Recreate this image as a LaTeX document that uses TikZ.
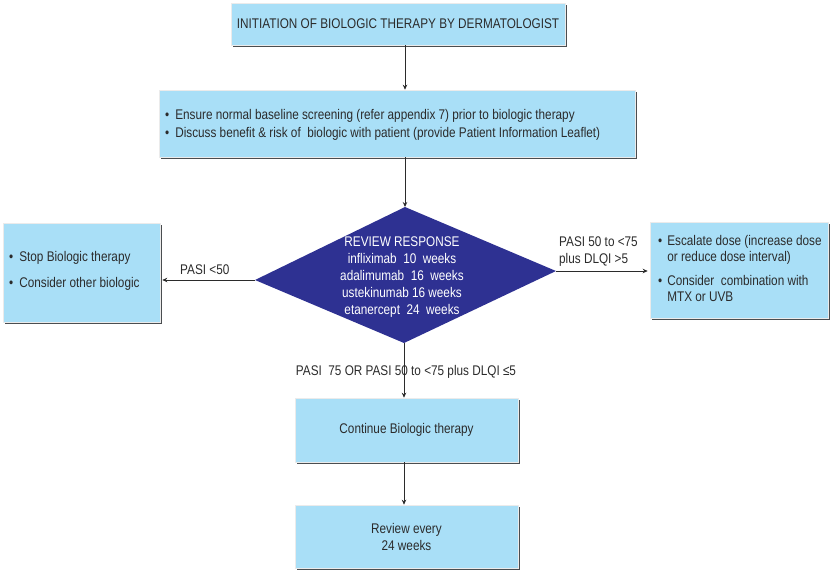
\documentclass[tikz,border=0pt]{standalone}
\usepackage{fontspec}
\setmainfont{Liberation Sans}[FakeStretch=0.84]
\usetikzlibrary{arrows.meta,shadows,calc}
\definecolor{boxfill}{HTML}{A9DFF7}
\definecolor{boxshade}{HTML}{4A4D50}
\definecolor{deepblue}{HTML}{2E3192}
\definecolor{inkgray}{HTML}{2B2B2B}
\newcommand{\bul}{\textbullet}
\begin{document}
\begin{tikzpicture}[x=1pt,y=-1pt,
  every node/.style={text=inkgray,font=\fontsize{14}{17}\selectfont,inner sep=0pt},
  cbox/.style={rectangle,fill=boxfill,draw=black!8,line width=0.6pt,
    drop shadow={shadow xshift=2pt,shadow yshift=-2pt,fill=boxshade,opacity=1}},
  link/.style={draw=inkgray,line width=0.9pt,-{Stealth[length=5pt,width=4.5pt]}},
  lbl/.style={font=\fontsize{14}{17}\selectfont}]
\useasboundingbox (0,0) rectangle (831,570);

% boxes
\node[cbox,minimum width=334pt,minimum height=42pt] (start) at (398,24)
  {INITIATION OF BIOLOGIC THERAPY BY DERMATOLOGIST};
\node[cbox,minimum width=476pt,minimum height=67pt] (screen) at (397,123.5) {};
\node[anchor=west,align=left,font=\fontsize{14}{18}\selectfont] (screentext) at (165,125)
  {\bul\hspace{6pt}Ensure normal baseline screening (refer appendix 7) prior to biologic therapy\\
   \bul\hspace{6pt}Discuss benefit \& risk of\ \ biologic with patient (provide Patient Information Leaflet)};

\node[cbox,minimum width=157pt,minimum height=99pt] (stop) at (81.5,272.5) {};
\node[anchor=west,align=left,font=\fontsize{14}{26}\selectfont] (stoptext) at (9,271)
  {\bul\hspace{6pt}Stop Biologic therapy\\ \bul\hspace{6pt}Consider other biologic};

\node[cbox,minimum width=178pt,minimum height=96pt] (escalate) at (739,270) {};
\node[anchor=west,font=\fontsize{14}{16}\selectfont] (esctext) at (658,270)
  {\begin{tabular}{@{}l@{\hspace{5pt}}l@{}}
   \bul & Escalate dose (increase dose\\
        & or reduce dose interval)\\[8pt]
   \bul & Consider\ \ combination with\\
        & MTX or UVB
   \end{tabular}};

\node[cbox,minimum width=223pt,minimum height=64pt] (cont) at (406.5,430)
  {Continue Biologic therapy};
\node[cbox,minimum width=223pt,minimum height=63pt,align=center] (revbox) at (406.5,536.5)
  {Review every\\24 weeks};

% decision diamond
\coordinate (dtop) at (405,207);
\coordinate (dright) at (556,271);
\coordinate (dbottom) at (404,343);
\coordinate (dleft) at (255,280);
\fill[deepblue] (dtop) -- (dright) -- (dbottom) -- (dleft) -- cycle;
\node[text=white,align=center,font=\fontsize{14}{17}\selectfont] (review) at (402,277)
  {REVIEW RESPONSE\\infliximab\ \ 10\ \ weeks\\adalimumab\ \ 16\ \ weeks\\
   ustekinumab 16 weeks\\etanercept\ \ 24\ \ weeks};

% connectors
\draw[link] (start.south -| dtop) -- (screen.north -| dtop);
\draw[link] (screen.south -| dtop) -- (dtop);
\draw[link] (dleft) -- ($(dleft -| stop.east)+(2,0)$);
\draw[link] (dright) -- ($(dright -| escalate.west)+(-2,0)$);
\draw[link] (dbottom) -- (cont.north -| dbottom);
\draw[link] (cont.south -| dbottom) -- (revbox.north -| dbottom);

% labels
\node[lbl,anchor=west] (lowlbl) at (180,270) {PASI <50};
\node[lbl,anchor=west,align=left] (midlbl) at (559,252) {PASI 50 to <75\\plus DLQI >5};
\node[lbl] (highlbl) at (406,372) {PASI\ \ 75 OR PASI 50 to <75 plus DLQI ≤5};
\end{tikzpicture}
\end{document}
